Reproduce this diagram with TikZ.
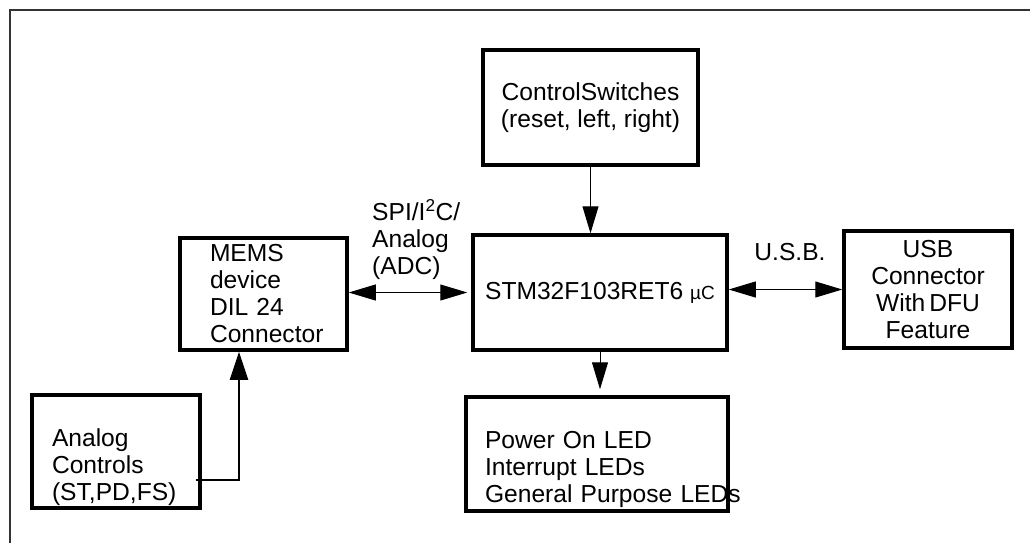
\documentclass[tikz,border=0pt]{standalone}
\usepackage{fontspec}
\setmainfont{Liberation Sans}
\usetikzlibrary{arrows.meta, positioning}
\hfuzz=60pt

\begin{document}
\begin{tikzpicture}[
    x=1pt, y=-1pt,
    every node/.style={font=\fontsize{24.6}{27}\selectfont},
    blk/.style={draw, line width=3.5pt, inner sep=0pt},
    lbl/.style={inner sep=0pt},
    arrow/.style={line width=1pt, -{Triangle[length=27pt, width=16pt]}},
    biarrow/.style={line width=1pt, {Triangle[length=27pt, width=16pt]}-{Triangle[length=27pt, width=16pt]}}
]
    \useasboundingbox (0,0) rectangle (1030,542);

    % Frame
    \draw[line width=1.5pt, black!80] (10,560) -- (10,10) -- (1040,10);

    % Blocks
    \node[blk, minimum width=215pt, minimum height=115pt, align=center] (sw) at (590.5,107.5) {ControlSwitches\\(reset, left, right)};
    \node[blk, minimum width=254pt, minimum height=115pt] (stm) at (600,292.5) {STM32F103RET6 {\fontsize{19}{20}\selectfont µC}};
    \node[blk, minimum width=167pt, minimum height=112pt, text width=107pt, inner xsep=30pt, align=left] (mems) at (263.5,294) {MEMS\\device\\DIL 24\\Connector};
    \node[blk, minimum width=168pt, minimum height=117pt, align=center] (usb) at (928,289.5) {USB\\Connector\\With\,DFU\\Feature};
    \node[blk, minimum width=168pt, minimum height=113pt, text width=128pt, inner xsep=20pt, align=left, text depth=28pt] (ana) at (116,451.5) {Analog\\Controls\\(ST,PD,FS)};
    \node[blk, minimum width=262pt, minimum height=114pt, text width=224pt, inner xsep=19pt, align=left, text depth=29pt] (led) at (597,454) {Power On LED\\Interrupt LEDs\\\mbox{General Purpose LEDs}};

    % Bus labels
    \node[lbl, align=left, anchor=west] (bus) at (372,240) {SPI/I\textsuperscript{2}C/\\Analog\\(ADC)};
    \node[lbl] (usblbl) at (790,252) {U.S.B.};

    % Connections
    \draw[arrow] (sw) -- (sw |- stm.north);
    \draw[arrow, shorten >=6pt] (stm.south) -- (stm.south |- led.north);
    \draw[biarrow, shorten >=4pt] (mems.east |- stm.west) -- (stm.west);
    \draw[biarrow] (stm.east |- usb.west) -- (usb.west);
    \coordinate (anaout) at ([shift={(-6,28.5)}]ana.east);
    \draw[line width=2pt, -{Triangle[length=28pt, width=18pt]}] (anaout) -| ([xshift=-24.5pt]mems.south);

\end{tikzpicture}
\end{document}
